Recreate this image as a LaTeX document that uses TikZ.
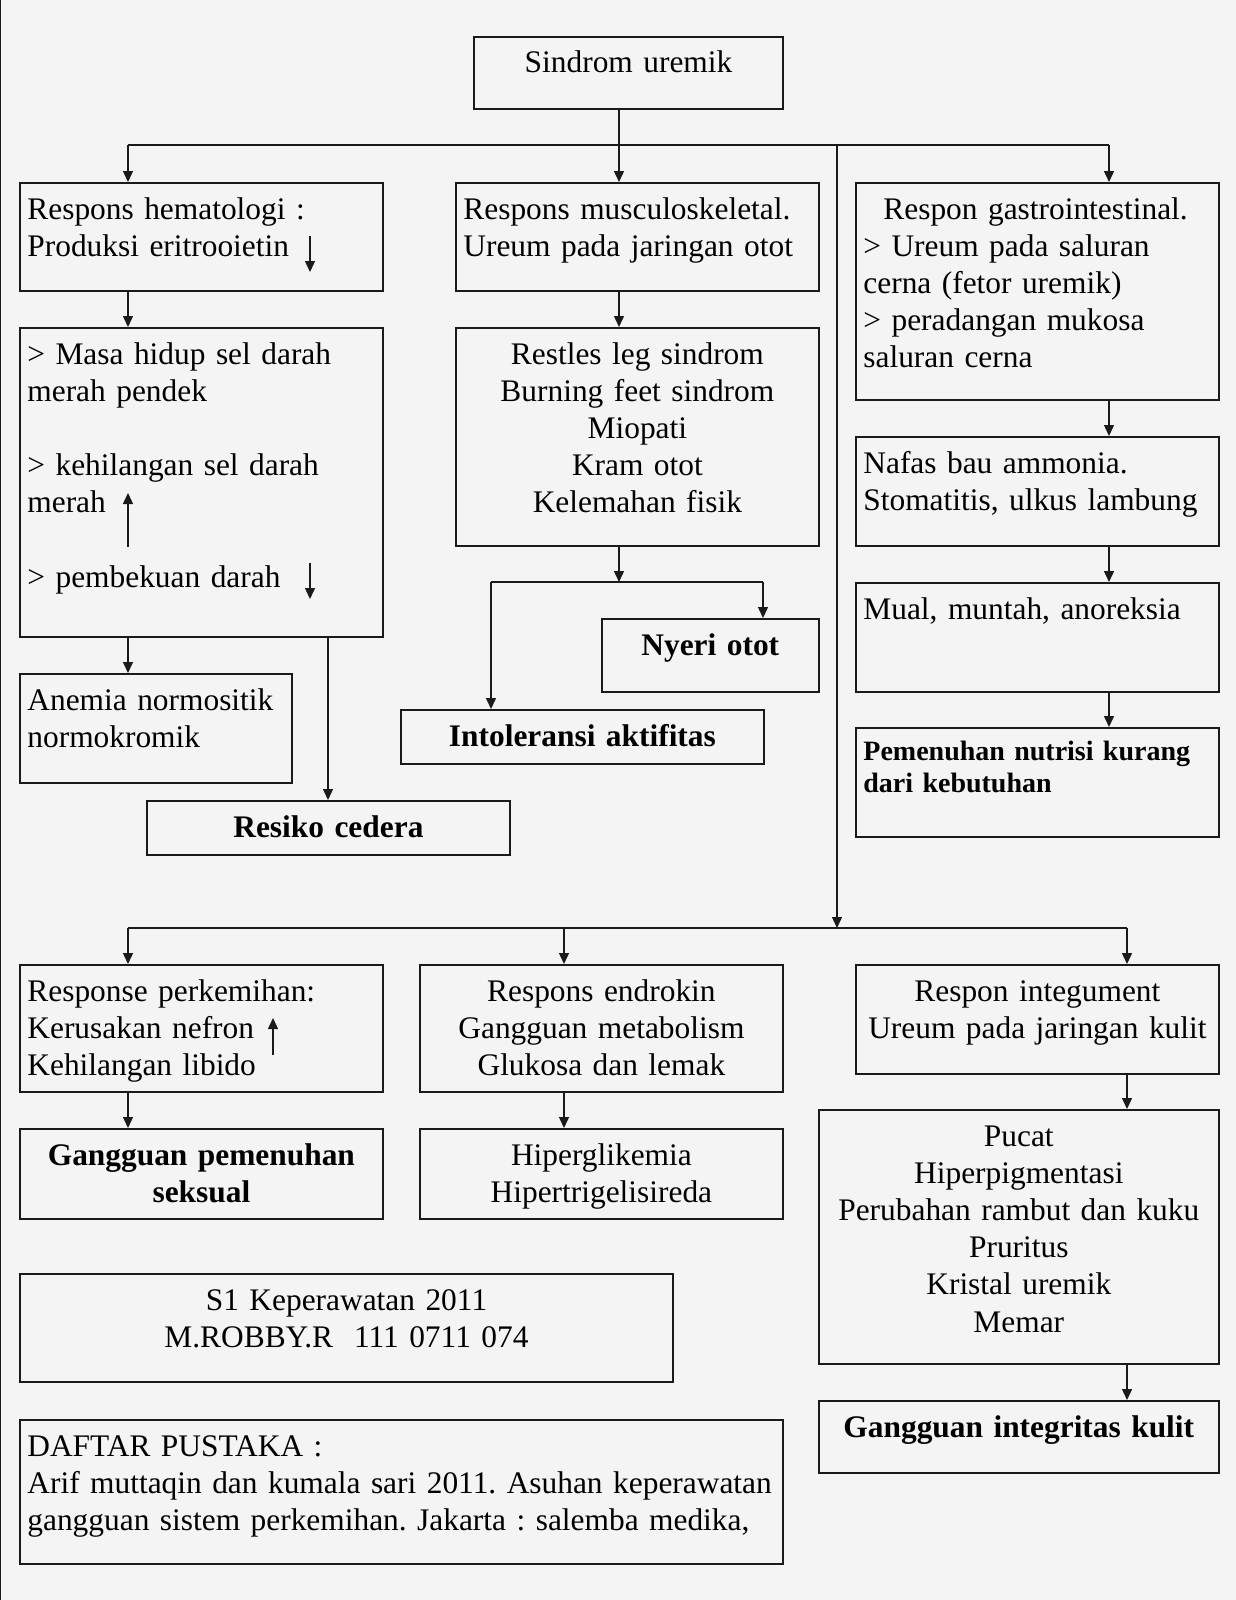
\documentclass[tikz,border=0pt]{standalone}
\usepackage{fontspec}
\setmainfont{Liberation Serif}
\usetikzlibrary{positioning, arrows.meta}
\definecolor{paper}{HTML}{F4F4F4}
\definecolor{ink}{HTML}{1A1A1A}
\frenchspacing

\begin{document}
\begin{tikzpicture}[
  x=0.5pt, y=-0.5pt,
  every node/.style={font=\fontsize{15.7}{18.6}\selectfont},
  >={Triangle[length=5.5pt, width=5pt]},
  box/.style={
    draw=ink, line width=1pt, anchor=north west,
    inner xsep=3.7pt, inner ysep=0pt,
    text width=174pt, text height=18pt, text depth=36pt, align=left
  },
  mid/.style={box, align=center},
  verdict/.style={box, align=center, font=\fontsize{15.7}{18.6}\selectfont\bfseries},
  line/.style={line width=0.7pt, draw=ink},
  arrow/.style={->, line width=0.7pt, draw=ink}
]

% Page
\fill[paper] (0,0) rectangle (1236,1600);
\useasboundingbox (0,0) rectangle (1236,1600);
\draw[ink, line width=0.6pt] (0.6,0) -- (0.6,1600);

% Top
\node[mid, text width=147.1pt, text depth=18pt] (sindrom) at (473,36) {Sindrom uremik};

% First row of responses
\node[box] (hem) at (19,182) {Respons hematologi :\\Produksi eritrooietin};
\node[box] (musc) at (455,182) {Respons musculoskeletal.\\Ureum pada jaringan otot};
\node[box, text depth=90.5pt] (gastro) at (855,182)
  {\hspace*{10pt}Respon gastrointestinal.\\> Ureum pada saluran\\cerna (fetor uremik)\\> peradangan mukosa\\saluran cerna};

% Hematologi column
\node[box, below=17.5pt of hem.south west, anchor=north west, text depth=136.5pt] (masa)
  {> Masa hidup sel darah\\merah pendek\\[18.6pt]> kehilangan sel darah\\merah\\[18.6pt]> pembekuan darah};
\node[box, below=17.5pt of masa.south west, anchor=north west, text width=128.6pt, text depth=36.5pt] (anemia)
  {Anemia normositik\\normokromik};
\node[verdict, text depth=9pt] (resiko) at (146,800) {Resiko cedera};

% Musculoskeletal column
\node[mid, below=17.5pt of musc.south west, anchor=north west, text depth=91pt] (restles)
  {Restles leg sindrom\\Burning feet sindrom\\Miopati\\Kram otot\\Kelemahan fisik};
\node[verdict, below=35.5pt of restles.south east, anchor=north east, text width=101.1pt, text depth=18.5pt] (nyeri) {Nyeri otot};
\node[verdict, text depth=9pt] (intol) at (400,709) {Intoleransi aktifitas};

% Gastrointestinal column
\node[box, below=17.5pt of gastro.south west, anchor=north west, text depth=36.5pt] (nafas)
  {Nafas bau ammonia.\\Stomatitis, ulkus lambung};
\node[box, below=17.5pt of nafas.south west, anchor=north west, text depth=36.5pt] (mual)
  {Mual, muntah, anoreksia};
\node[box, below=17pt of mual.south west, anchor=north west, text height=16pt, text depth=38.5pt,
  font=\fontsize{14}{16.3}\selectfont\bfseries] (nutrisi)
  {Pemenuhan nutrisi kurang\\dari kebutuhan};

% Second row of responses
\node[box, text depth=45.5pt] (perkemihan) at (19,964)
  {Response perkemihan:\\Kerusakan nefron\\Kehilangan libido};
\node[mid, text depth=45.5pt] (endrokin) at (419,964)
  {Respons endrokin\\Gangguan metabolism\\Glukosa dan lemak};
\node[mid, text depth=36.5pt] (integ) at (855,964)
  {Respon integument\\Ureum pada jaringan kulit};
\node[verdict, below=17.5pt of perkemihan.south west, anchor=north west, text depth=27pt] (seksual)
  {Gangguan pemenuhan\\seksual};
\node[mid, below=17.5pt of endrokin.south west, anchor=north west, text depth=27pt] (hiper)
  {Hiperglikemia\\Hipertrigelisireda};
\node[mid, below=17pt of integ.south east, anchor=north east, text width=192.6pt, text depth=109pt] (pucat)
  {Pucat\\Hiperpigmentasi\\Perubahan rambut dan kuku\\Pruritus\\Kristal uremik\\Memar};
\node[verdict, below=17.5pt of pucat.south east, anchor=north east, text width=192.6pt, text depth=18pt] (integritas)
  {Gangguan integritas kulit};

% Footer
\node[mid, text width=319.1pt, text depth=36pt] (s1) at (19,1273)
  {S1 Keperawatan 2011\\M.ROBBY.R~~111 0711 074};
\node[box, below=18pt of s1.south west, anchor=north west, text width=374.1pt, text depth=54pt] (daftar)
  {DAFTAR PUSTAKA :\\\mbox{Arif muttaqin dan kumala sari 2011. Asuhan keperawatan}\\gangguan sistem perkemihan. Jakarta : salemba medika,};

% Junctions
\coordinate (bar1) at (619,145);
\coordinate (bar2) at (837,928);
\coordinate (fork) at (619,582);
\coordinate (lx) at (128,0);
\coordinate (gx) at (1109,0);
\coordinate (ex) at (564,0);
\coordinate (rx) at (1127,0);
\coordinate (rk) at (328,0);
\coordinate (il) at (491,0);
\coordinate (ny) at (763,0);

% Arrows
\draw[arrow] (sindrom.south -| bar1) -- (musc.north -| bar1);
\draw[line] (bar1 -| lx) -- (bar1 -| gx);
\draw[arrow] (bar1 -| lx) -- (hem.north -| lx);
\draw[arrow] (bar1 -| gx) -- (gastro.north -| gx);
\draw[arrow] (bar1 -| bar2) -- (bar2);
\draw[line] (bar2 -| lx) -- (bar2 -| rx);
\draw[arrow] (bar2 -| lx) -- (perkemihan.north -| lx);
\draw[arrow] (bar2 -| ex) -- (endrokin.north -| ex);
\draw[arrow] (bar2 -| rx) -- (integ.north -| rx);

\draw[arrow] (hem.south -| lx) -- (masa.north -| lx);
\draw[arrow] (masa.south -| lx) -- (anemia.north -| lx);
\draw[arrow] (masa.south -| rk) -- (resiko.north -| rk);

\draw[arrow] (musc.south -| fork) -- (restles.north -| fork);
\draw[arrow] (restles.south -| fork) -- (fork);
\draw[line] (fork -| il) -- (fork -| ny);
\draw[arrow] (fork -| il) -- (intol.north -| il);
\draw[arrow] (fork -| ny) -- (nyeri.north -| ny);

\draw[arrow] (gastro.south -| gx) -- (nafas.north -| gx);
\draw[arrow] (nafas.south -| gx) -- (mual.north -| gx);
\draw[arrow] (mual.south -| gx) -- (nutrisi.north -| gx);

\draw[arrow] (perkemihan.south -| lx) -- (seksual.north -| lx);
\draw[arrow] (endrokin.south -| ex) -- (hiper.north -| ex);
\draw[arrow] (integ.south -| rx) -- (pucat.north -| rx);
\draw[arrow] (pucat.south -| rx) -- (integritas.north -| rx);

% Up and down marks in the text
\coordinate (eritro) at (310,236);
\coordinate (hilang) at (128,547);
\coordinate (beku) at (310,563);
\coordinate (nefron) at (273,1055);
\draw[arrow] (eritro) -- ++(0,36);
\draw[arrow] (hilang) -- ++(0,-54);
\draw[arrow] (beku) -- ++(0,36);
\draw[arrow] (nefron) -- ++(0,-37);

\end{tikzpicture}
\end{document}
